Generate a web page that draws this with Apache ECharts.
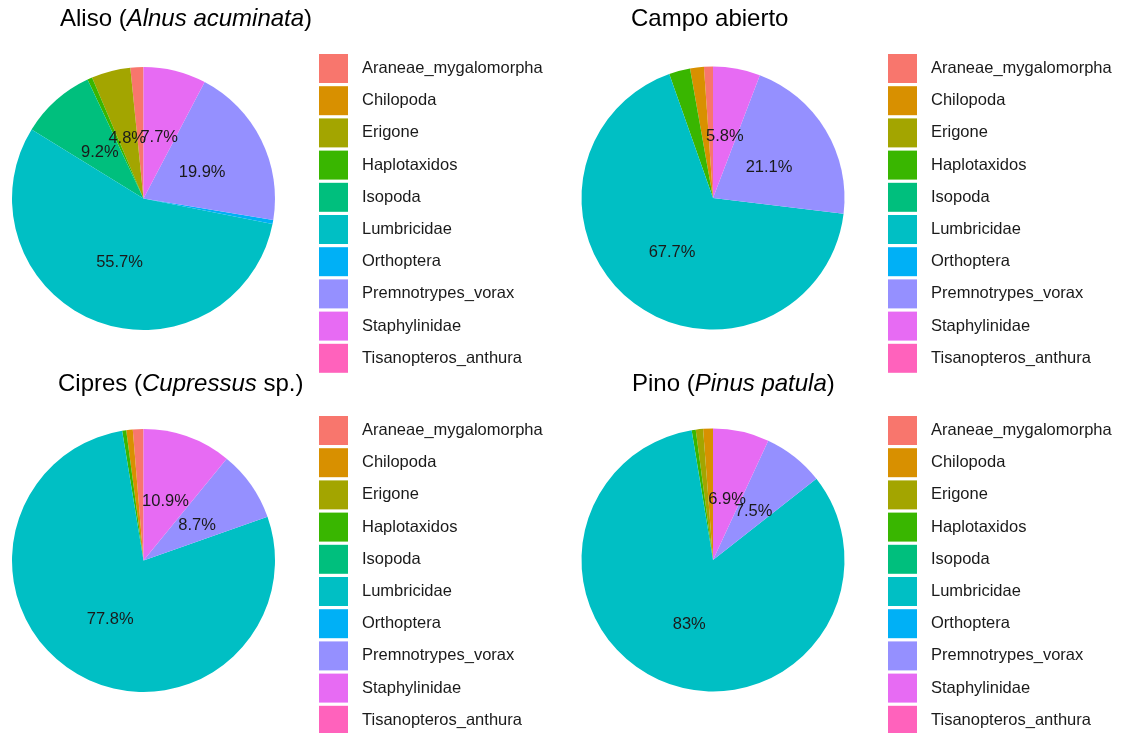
<!DOCTYPE html>
<html>
<head>
<meta charset="utf-8">
<script src="https://cdn.jsdelivr.net/npm/echarts@6/dist/echarts.min.js"></script>
<style>html,body{margin:0;padding:0;background:#fff;}#c{width:1128px;height:733px;}</style>
</head>
<body>
<div id="c"></div>
<script>
var categories = ['Araneae_mygalomorpha','Chilopoda','Erigone','Haplotaxidos','Isopoda','Lumbricidae','Orthoptera','Premnotrypes_vorax','Staphylinidae','Tisanopteros_anthura'];
var aliso  = [1.6, 0,   4.8, 0.6, 9.2, 55.7, 0.5, 19.9, 7.7, 0];
var campo  = [1.1, 1.7, 0,   2.6, 0,   67.7, 0,   21.1, 5.8, 0];
var cipres = [1.3, 0.8, 0,   0.5, 0,   77.8, 0,   8.7, 10.9, 0];
var pino   = [0,   1.2, 0.9, 0.5, 0,   83,   0,   7.5, 6.9,  0];
var titlesPlain = ['Aliso (', 'Campo abierto', 'Cipres (', 'Pino ('];
var titlesItalic = ['Alnus acuminata', '', 'Cupressus', 'Pinus patula'];
var titlesTail = [')', '', ' sp.)', ')'];

var colors = ['#F8766D','#D89000','#A3A500','#39B600','#00BF7D','#00BFC4','#00B0F6','#9590FF','#E76BF3','#FF62BC'];
var FONT = '"Liberation Sans", Arial, sans-serif';

var panels = [
  {vals: aliso,  cx: 143.5, cy: 198.5, tx: 60,  ty: 7,   lx: 319, ly: 54},
  {vals: campo,  cx: 713,   cy: 198,   tx: 631, ty: 7,   lx: 888, ly: 54},
  {vals: cipres, cx: 143.5, cy: 560.5, tx: 58,  ty: 372, lx: 319, ly: 416},
  {vals: pino,   cx: 713,   cy: 560,   tx: 632, ty: 372, lx: 888, ly: 416}
];

var titles = [], legends = [], pies = [], labelPies = [];
panels.forEach(function(p, i){
  var txt = '{n|' + titlesPlain[i] + '}';
  if (titlesItalic[i]) txt += '{i|' + titlesItalic[i] + '}';
  if (titlesTail[i]) txt += '{n|' + titlesTail[i] + '}';
  titles.push({
    text: txt, left: p.tx, top: p.ty, padding: 0,
    textStyle: {
      rich: {
        n: {fontSize: 24, fontFamily: FONT, color: '#000', fontWeight: 'normal'},
        i: {fontSize: 24, fontFamily: FONT, color: '#000', fontStyle: 'italic', fontWeight: 'normal'}
      }
    }
  });
  legends.push({
    type: 'plain',
    data: categories, orient: 'vertical', left: p.lx, top: p.ly, height: 340, padding: 0,
    itemWidth: 29, itemHeight: 29, itemGap: 3.2, icon: 'rect', selectedMode: false,
    textStyle: {fontSize: 16.5, fontFamily: FONT, color: '#1a1a1a', padding: [0,0,0,9]}
  });
  pies.push({
    type: 'pie', center: [p.cx, p.cy], radius: 131.5, startAngle: 90, clockwise: false,
    avoidLabelOverlap: false, animation: false, silent: true,
    itemStyle: {borderWidth: 0},
    label: {show: false},
    labelLine: {show: false},
    emphasis: {disabled: true},
    data: categories.map(function(c, k){ return {name: c, value: p.vals[k], itemStyle: {color: colors[k]}}; })
  });
  labelPies.push({
    type: 'pie', center: [p.cx, p.cy + 3], radius: 125, startAngle: 90, clockwise: false,
    avoidLabelOverlap: false, animation: false, silent: true, z: 5,
    itemStyle: {borderWidth: 0, color: 'rgba(0,0,0,0)'},
    labelLayout: {hideOverlap: false},
    label: {
      show: true, position: 'inside', fontSize: 16.5, fontFamily: FONT, color: '#1a1a1a',
      formatter: function(d){ return d.value >= 4 ? d.value + '%' : ''; }
    },
    labelLine: {show: false},
    emphasis: {disabled: true},
    data: categories.map(function(c, k){ return {name: c, value: p.vals[k]}; })
  });
});

var chart = echarts.init(document.getElementById('c'));
chart.setOption({
  backgroundColor: '#fff',
  animation: false,
  title: titles,
  legend: legends,
  series: pies.concat(labelPies)
});
</script>
</body>
</html>
